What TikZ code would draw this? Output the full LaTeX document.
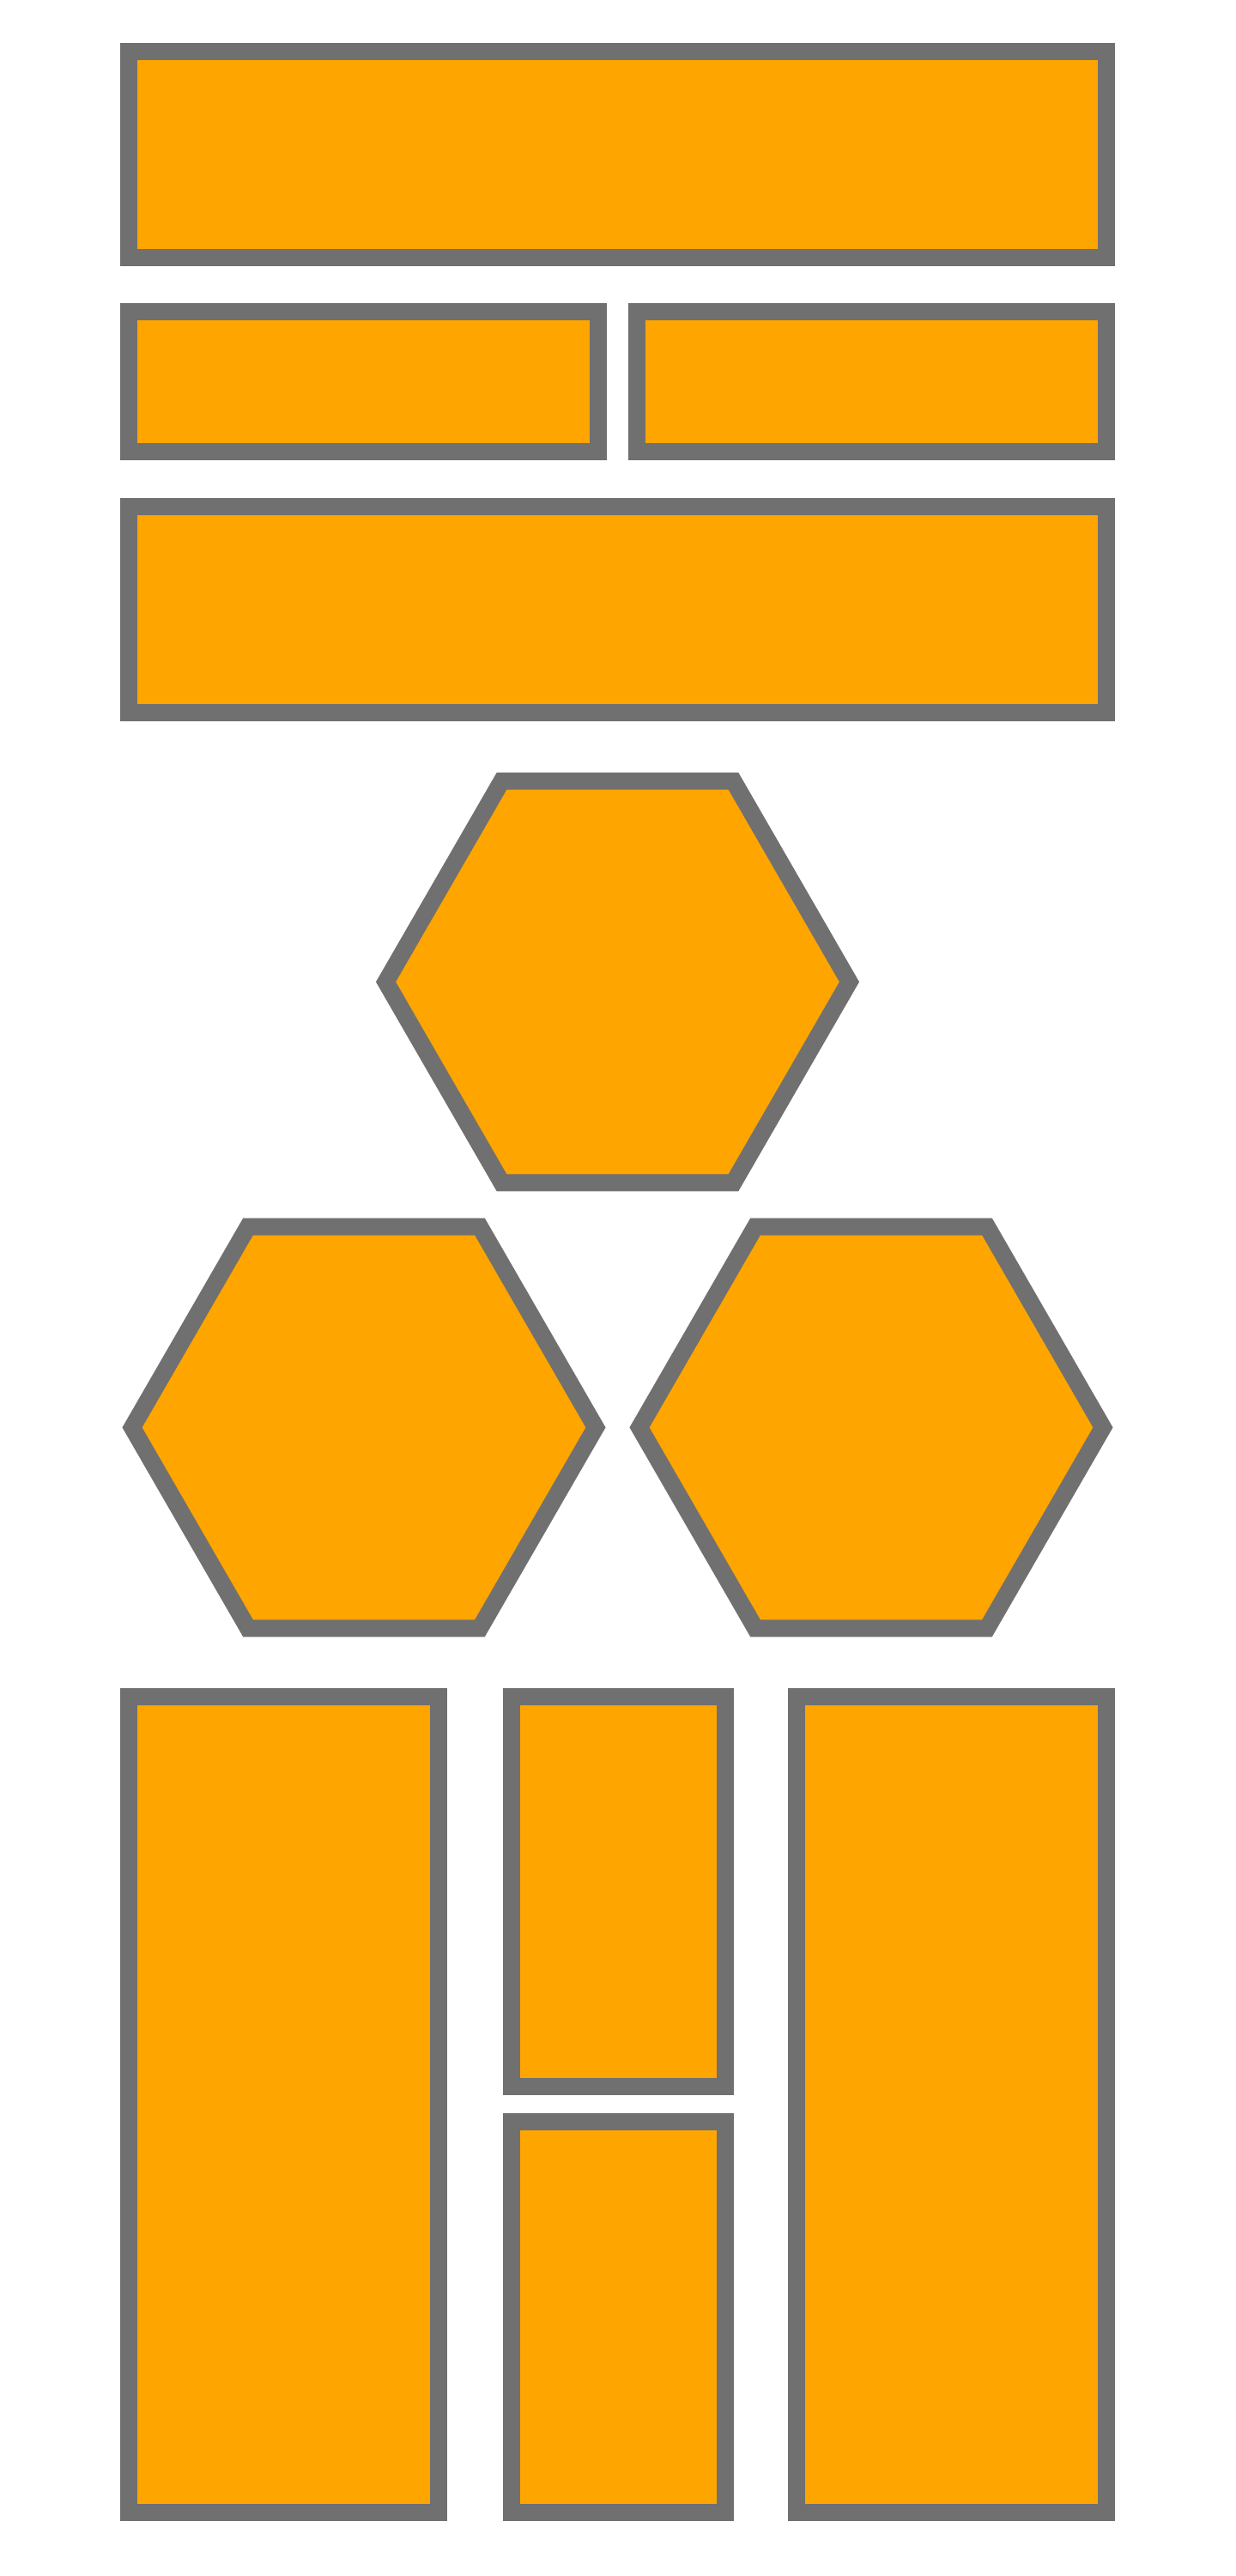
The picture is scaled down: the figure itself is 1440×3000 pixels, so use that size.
\documentclass[tikz,border=0pt]{standalone}
\definecolor{boxfill}{RGB}{255,165,0}
\definecolor{boxline}{RGB}{112,112,112}
\begin{document}
\begin{tikzpicture}[x=0.5pt,y=-0.5pt,
  piece/.style={fill=boxfill,draw=boxline,line width=10pt,line join=miter}]
\useasboundingbox (0,0) rectangle (1440,3000);
% rows of rectangles
\draw[piece] (150,60) rectangle (1289,300);
\draw[piece] (150,363) rectangle (696.7,526);
\draw[piece] (742,363) rectangle (1289,526);
\draw[piece] (150,590) rectangle (1289,830);
% hexagons
\def\hexR{270}
\def\hexH{233.83}
\foreach \cx/\cy in {719.5/1143.5, 424/1662.4, 1015/1662.4}{
  \draw[piece] (\cx+\hexR,\cy) -- (\cx+0.5*\hexR,\cy+\hexH) -- (\cx-0.5*\hexR,\cy+\hexH)
     -- (\cx-\hexR,\cy) -- (\cx-0.5*\hexR,\cy-\hexH) -- (\cx+0.5*\hexR,\cy-\hexH) -- cycle;
}
% bottom columns
\draw[piece] (150,1976) rectangle (511,2925.7);
\draw[piece] (928,1976) rectangle (1289,2925.7);
\draw[piece] (596,1976) rectangle (844.6,2430);
\draw[piece] (596,2471) rectangle (844.6,2925.7);
\end{tikzpicture}
\end{document}
